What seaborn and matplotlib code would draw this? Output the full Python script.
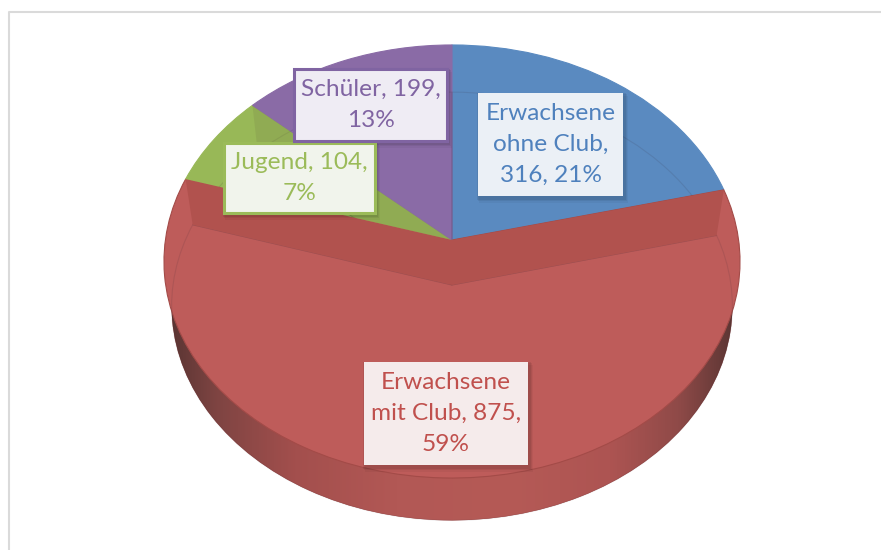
import numpy as np
from matplotlib import pyplot as plt
from matplotlib.colors import LinearSegmentedColormap
from matplotlib.patches import Rectangle
from matplotlib.transforms import Transform
import seaborn as sns

categories = ['Erwachsene ohne Club', 'Erwachsene mit Club', 'Jugend', 'Schüler']
values = [316, 875, 104, 199]
labels = ['Erwachsene\nohne Club,\n316, 21%', 'Erwachsene\nmit Club, 875,\n59%',
          'Jugend, 104,\n7%', 'Schüler, 199,\n13%']

face_colors = sns.color_palette(['#5A8AC0', '#BE5C5A', '#98B857', '#8A6BA6'])
text_colors = sns.color_palette(['#4F81BD', '#C0504D', '#9BBB59', '#8064A2'])
box_colors = ['#EBF0F6', '#F5EBEB', '#F1F4EC', '#EFECF4']
box_edges = [None, None, '#9BBB59', '#8064A2']
# x0, y0, x1, y1 of the label boxes in pixels
box_pos = [(478, 93, 623, 196), (364, 362, 528, 465), (224, 143, 375, 213), (294, 69, 447, 141)]

CENTER_X = 452
TILT = 0.0993


class TiltTransform(Transform):
    """Puts the unit pie in perspective, output in pixel coordinates."""
    input_dims = 2
    output_dims = 2

    def __init__(self, apex_y, a, b):
        super().__init__()
        self.apex_y, self.a, self.b = apex_y, a, b

    def transform_non_affine(self, xy):
        xy = np.asarray(xy, dtype=float)
        w = 1 + TILT * xy[:, 1]
        return np.column_stack([CENTER_X + self.b * xy[:, 0] / w,
                                self.apex_y - self.a * xy[:, 1] / w])


top_disc = TiltTransform(240, 214.4, 286.6)
low_disc = TiltTransform(285, 212, 279)

sns.set_theme(style='white')
plt.rcParams['font.family'] = ['Lato', 'DejaVu Sans']

fig = plt.figure(figsize=(8.81, 5.5), dpi=100)
ax = fig.add_axes([0, 0, 1, 1])


def draw_pie(disc, **props):
    wedges, _ = ax.pie(values, startangle=90, counterclock=False, wedgeprops=props)
    for wedge in wedges:
        wedge.set_transform(disc + ax.transData)
    return wedges


# side of the pie, dark towards both ends
low_wedges = draw_pie(low_disc, facecolor='#B35854', linewidth=0)
side_cmap = LinearSegmentedColormap.from_list(
    'side', [(0, '#5A3533'), (0.08, '#7E4442'), (0.22, '#A34F4D'), (0.4, '#B25855'), (0.6, '#B55A56'),
             (0.78, '#AD5452'), (0.9, '#8F4A48'), (1, '#5A3533')])
side = ax.imshow(np.linspace(0, 1, 256)[None, :], extent=(170, 736, 530, 280), cmap=side_cmap, aspect='auto')
side.set_clip_path(low_wedges[1])
side.set_zorder(1.5)
for wedge in low_wedges:
    wedge.set_zorder(1)

# top face
top_wedges = draw_pie(top_disc, linewidth=0)
for wedge, color in zip(top_wedges, face_colors):
    wedge.set_facecolor(color)
    wedge.set_edgecolor('#A34B48' if color == face_colors[1] else color)
    wedge.set_linewidth(0.8)
    wedge.set_zorder(2)

# inner disc that shines through the top
inner_wedges = draw_pie(low_disc, facecolor='none', edgecolor=(0.2, 0.15, 0.2, 0.12), linewidth=0.8)
for inner, top in zip(inner_wedges, top_wedges):
    inner.set_zorder(2.2)
    inner.set_clip_path(top)

# walls of the red slice and the green/purple edge
fractions = np.cumsum(values) / np.sum(values)


def edge_wall(frac):
    theta = 2 * np.pi * frac
    rim = np.array([[np.sin(theta), np.cos(theta)], [0.0, 0.0]])
    return np.vstack([top_disc.transform_non_affine(rim), low_disc.transform_non_affine(rim[::-1])])


for frac in (fractions[0], fractions[1]):
    wall = edge_wall(frac)
    ax.fill(wall[:, 0], wall[:, 1], color='#B1524E', linewidth=0, zorder=2.4)
wall = edge_wall(fractions[2])
green_wall = ax.fill(wall[:, 0], wall[:, 1], color='#7F8F4A', alpha=0.3, linewidth=0, zorder=2.3)[0]
green_wall.set_clip_path(top_wedges[2])

# label boxes
for label, pos, fill, edge, color in zip(labels, box_pos, box_colors, box_edges, text_colors):
    x0, y0, x1, y1 = pos
    for off, alpha in ((5, 0.04), (3, 0.06), (1.5, 0.07)):
        ax.add_patch(Rectangle((x0 - 2 + off / 2, y0 - 2 + off), x1 - x0 + 4, y1 - y0 + 4, facecolor='black',
                               alpha=alpha, linewidth=0, zorder=3))
    ax.add_patch(Rectangle((x0, y0), x1 - x0, y1 - y0, facecolor=fill, edgecolor=edge or fill,
                           linewidth=2.2 if edge else 0, zorder=4))
    ax.text((x0 + x1) / 2, (y0 + y1) / 2, label, color=color, fontsize=17.6, ha='center', va='center',
            linespacing=1.6, zorder=5)

# chart area border, only left and top are in the picture
ax.plot([8.5, 8.5, 881], [550, 11.5, 11.5], color='#DADADA', linewidth=1.5, zorder=0.5)

ax.set_aspect('auto')
ax.set_xlim(0, 881)
ax.set_ylim(550, 0)
ax.axis('off')
fig.savefig('out.png', dpi=100)
